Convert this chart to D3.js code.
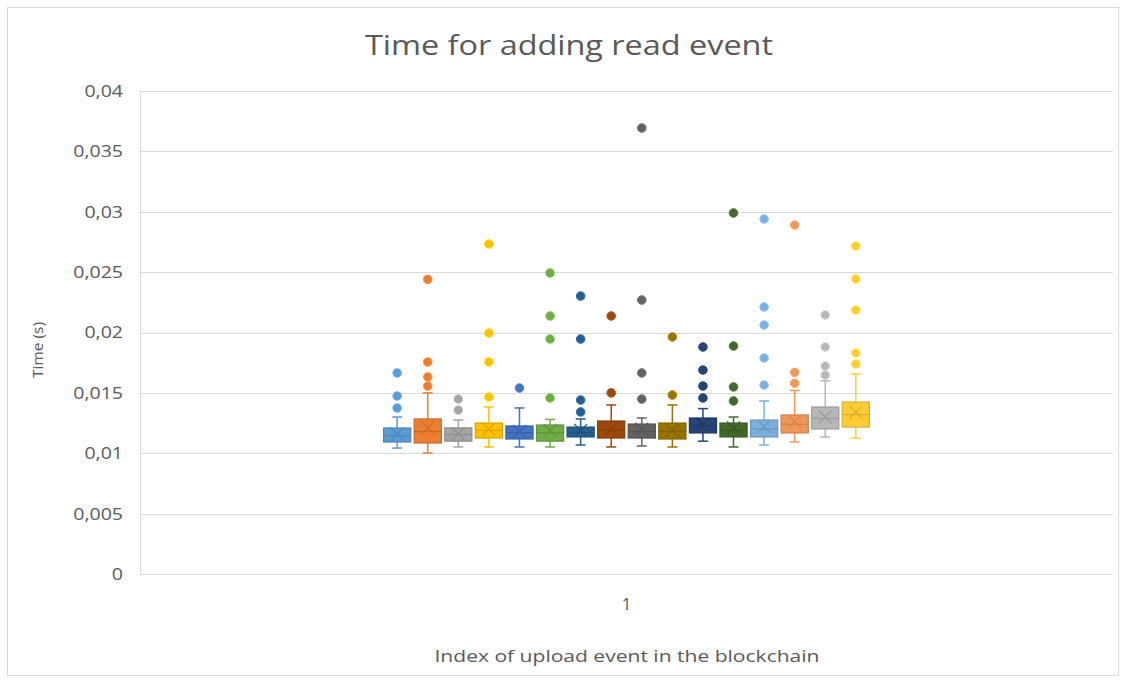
<!DOCTYPE html>
<html>
<head>
<meta charset="utf-8">
<script src="https://cdn.jsdelivr.net/npm/d3@7"></script>
<style>
  body { margin: 0; background: #fff; }
  text { font-family: "Open Sans", Lato, sans-serif; fill: #595959; }
</style>
</head>
<body>
<svg id="chart" width="1125" height="680"></svg>
<script>
// chart data
const categories = ["1"];
const seriesNames = ["S1","S2","S3","S4","S5","S6","S7","S8","S9","S10","S11","S12","S13","S14","S15","S16"];
const colors = ["#5B9BD5","#ED7D31","#A5A5A5","#FFC000","#4472C4","#70AD47","#255E91","#9E480E",
                "#636363","#997300","#264478","#43682B","#7CAFDD","#F1975A","#B7B7B7","#FFCD33"];
const whiskerLo = [0.01043,0.01002,0.01052,0.01052,0.01052,0.01052,0.01068,0.01052,0.0106,0.01052,0.0110,0.01052,0.01068,0.01093,0.01135,0.01126];
const q1        = [0.01093,0.01085,0.0110,0.01126,0.01118,0.0110,0.01135,0.01126,0.01126,0.01118,0.01168,0.01135,0.01135,0.01168,0.01201,0.01217];
const median    = [0.01145,0.0118,0.01155,0.0119,0.0117,0.0117,0.0117,0.0119,0.0118,0.0118,0.0123,0.0119,0.0120,0.0124,0.0129,0.0132];
const q3        = [0.01209,0.01284,0.0121,0.0125,0.01226,0.01234,0.01217,0.01267,0.01242,0.0125,0.01292,0.0125,0.01275,0.01317,0.01383,0.01424];
const whiskerHi = [0.0130,0.0150,0.01275,0.01383,0.01375,0.0128,0.01284,0.0140,0.01292,0.0140,0.0137,0.0130,0.01433,0.0152,0.0160,0.01656];
const means     = [0.0116,0.0121,0.0116,0.0120,0.0118,0.0119,0.0119,0.0120,0.0120,0.0119,0.0124,0.0121,0.0122,0.0126,0.0130,0.0134];
const outliers = [
  [0.01665,0.01474,0.01375],
  [0.0244,0.01756,0.01632,0.01557],
  [0.01449,0.01358],
  [0.02733,0.01996,0.01756,0.01466],
  [0.0154],
  [0.02493,0.02137,0.01946,0.01458],
  [0.02302,0.01946,0.01441,0.01342],
  [0.02137,0.0150],
  [0.03694,0.02269,0.01665,0.01449],
  [0.01963,0.01482],
  [0.0188,0.01689,0.01557,0.01458],
  [0.0299,0.01888,0.01549,0.01433],
  [0.0294,0.02211,0.02062,0.01789,0.01565],
  [0.0289,0.0167,0.0158],
  [0.02145,0.0188,0.01722,0.01648],
  [0.02716,0.02443,0.02186,0.0183,0.01739]
];
const yTicks = [0,0.005,0.01,0.015,0.02,0.025,0.03,0.035,0.04];
const yTickLabels = ["0","0,005","0,01","0,015","0,02","0,025","0,03","0,035","0,04"];

const svg = d3.select("#chart");
const plot = {left: 140, right: 1113, top: 91, bottom: 574};
const stretch = 1.15; // the source picture is a bit wider than tall

// outer chart border
svg.append("rect")
  .attr("x", 7.5).attr("y", 7.5).attr("width", 1111).attr("height", 668)
  .attr("fill", "none").attr("stroke", "#d9d9d9");

const y = d3.scaleLinear().domain([0, 0.04]).range([plot.bottom, plot.top]);
const x0 = d3.scaleBand().domain(categories).range([plot.left, plot.right]);
const x1 = d3.scaleBand().domain(seriesNames).range([0, x0.bandwidth()])
  .paddingInner(0.08).paddingOuter(7.95);

// gridlines
svg.append("g").selectAll("line").data(yTicks).join("line")
  .attr("x1", plot.left).attr("x2", plot.right)
  .attr("y1", d => Math.round(y(d)) + 0.5).attr("y2", d => Math.round(y(d)) + 0.5)
  .attr("stroke", "#d9d9d9").attr("stroke-width", 1);
svg.append("line")
  .attr("x1", plot.left + 0.5).attr("x2", plot.left + 0.5)
  .attr("y1", plot.top).attr("y2", plot.bottom)
  .attr("stroke", "#d9d9d9");

// y axis labels
const yAxis = d3.axisLeft(y).tickValues(yTicks)
  .tickFormat((d, i) => yTickLabels[i]).tickSize(0).tickPadding(17 / stretch);
const gy = svg.append("g").attr("transform", `translate(${plot.left},0)`).call(yAxis);
gy.select(".domain").remove();
gy.selectAll("text").style("font-size", "17px").attr("fill", "#595959")
  .style("font-family", "'Open Sans', Lato, sans-serif")
  .attr("transform", `scale(${stretch},1)`);

// x axis label
const xAxis = d3.axisBottom(x0).tickSize(0).tickPadding(24);
const gx = svg.append("g").attr("transform", `translate(0,${plot.bottom})`).call(xAxis);
gx.select(".domain").remove();
gx.selectAll("text").style("font-size", "17px").attr("fill", "#595959")
  .style("font-family", "'Open Sans', Lato, sans-serif");

// titles
svg.append("text").attr("x", 569).attr("y", 55).attr("text-anchor", "middle")
  .style("font-size", "28px")
  .attr("textLength", 408).attr("lengthAdjust", "spacingAndGlyphs")
  .text("Time for adding read event");
svg.append("text").attr("transform", "translate(43,350) rotate(-90)")
  .attr("text-anchor", "middle").style("font-size", "15px")
  .attr("textLength", 56).attr("lengthAdjust", "spacingAndGlyphs")
  .text("Time (s)");
svg.append("text").attr("x", 627).attr("y", 662).attr("text-anchor", "middle")
  .style("font-size", "17px")
  .attr("textLength", 385).attr("lengthAdjust", "spacingAndGlyphs")
  .text("Index of upload event in the blockchain");

// boxes
const boxes = seriesNames.map((name, i) => ({
  name, color: colors[i], lo: whiskerLo[i], q1: q1[i], med: median[i],
  q3: q3[i], hi: whiskerHi[i], mean: means[i], out: outliers[i]
}));

const g = svg.append("g").attr("transform", `translate(${x0("1")},0)`);
const bw = x1.bandwidth();

const sg = g.selectAll("g.series").data(boxes).join("g")
  .attr("class", "series")
  .attr("transform", d => `translate(${x1(d.name)},0)`);

const edge = d => d3.color(d.color).darker(0.45).formatHex();

// whiskers
sg.append("line")
  .attr("x1", bw / 2).attr("x2", bw / 2)
  .attr("y1", d => y(d.hi)).attr("y2", d => y(d.lo))
  .attr("stroke", d => d.color).attr("stroke-width", 1.5);
sg.selectAll("line.cap").data(d => [d.hi, d.lo].map(v => ({v, d}))).join("line")
  .attr("class", "cap")
  .attr("x1", bw / 2 - 5).attr("x2", bw / 2 + 5)
  .attr("y1", e => y(e.v)).attr("y2", e => y(e.v))
  .attr("stroke", e => e.d.color).attr("stroke-width", 1.5);

// box
sg.append("rect")
  .attr("x", 0.5).attr("width", bw - 1)
  .attr("y", d => y(d.q3)).attr("height", d => y(d.q1) - y(d.q3))
  .attr("fill", d => d.color).attr("stroke", edge).attr("stroke-width", 1.2);

// median
sg.append("line")
  .attr("x1", 0.5).attr("x2", bw - 0.5)
  .attr("y1", d => y(d.med)).attr("y2", d => y(d.med))
  .attr("stroke", edge).attr("stroke-width", 1.2);

// mean marker (X)
sg.append("path")
  .attr("d", d => {
    const cx = bw / 2, cy = y(d.mean), s = 6.5;
    return `M${cx - s},${cy - s}L${cx + s},${cy + s}M${cx - s},${cy + s}L${cx + s},${cy - s}`;
  })
  .attr("stroke", edge).attr("stroke-width", 1.2).attr("fill", "none");

// outliers
sg.selectAll("circle").data(d => d.out.map(v => ({v, d}))).join("circle")
  .attr("cx", bw / 2).attr("cy", e => y(e.v)).attr("r", 4.3)
  .attr("fill", e => e.d.color)
  .attr("stroke", e => d3.color(e.d.color).brighter(0.4).formatHex())
  .attr("stroke-width", 1);
</script>
</body>
</html>
